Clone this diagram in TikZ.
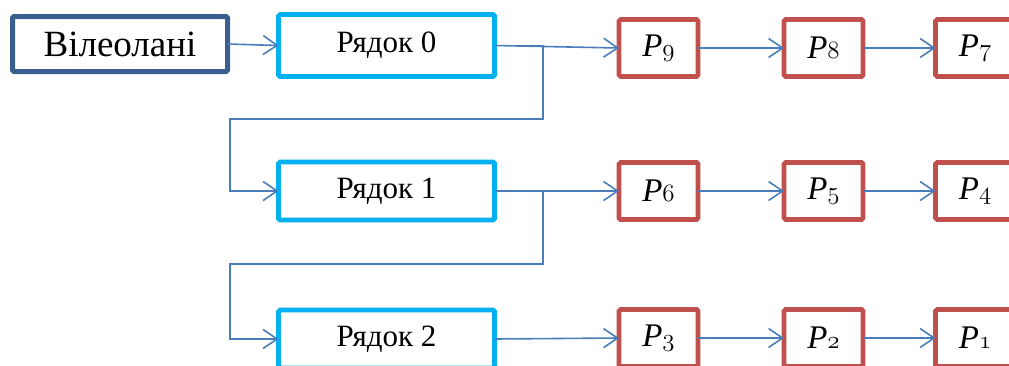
\documentclass[tikz,border=0pt]{standalone}
\usepackage{fontspec}
\setmainfont{Liberation Serif}
\usetikzlibrary{arrows.meta}
\definecolor{srcblue}{HTML}{3A5F8F}
\definecolor{rowcyan}{HTML}{00B0F0}
\definecolor{pixred}{HTML}{C0504D}
\definecolor{linkblue}{HTML}{4A7EBB}
% old-style italic digits for the pixel indices
\newcommand\onum[1]{{\usefont{OML}{lmm}{m}{it}#1}}
\newcommand\pix[1]{\textit{P}\onum{#1}}
\tikzset{
  srcbox/.style={draw=srcblue, line width=5pt, rounded corners=1.5pt, fill=white,
    minimum width=215pt, minimum height=55pt, inner sep=0pt, outer sep=0pt,
    font=\fontsize{37}{42}\selectfont},
  rowbox/.style={draw=rowcyan, line width=4.6pt, rounded corners=1.5pt, fill=white,
    minimum width=216pt, minimum height=58pt, inner sep=0pt, outer sep=0pt,
    font=\fontsize{31}{36}\selectfont},
  pixbox/.style={draw=pixred, line width=4.6pt, rounded corners=1.5pt, fill=white,
    minimum width=79pt, minimum height=57pt, inner sep=0pt, outer sep=0pt,
    font=\fontsize{33}{38}\selectfont},
  conn/.style={draw=linkblue, line width=1.6pt,
    -{Straight Barb[length=14pt,width=19pt,line width=1.6pt]}}
}
\begin{document}
\begin{tikzpicture}[x=1pt,y=-1pt]
\useasboundingbox (0,0) rectangle (1009,365);

% source
\node[srcbox] (vid) at (120,44) {Вілеолані};

% row buffers
\node[rowbox, minimum height=62pt] (r0) at (386.5,45.5) {Рядок 0};
\node[rowbox] (r1) at (386.5,191) {Рядок 1};
\node[rowbox] (r2) at (386.5,339) {Рядок 2};

% pixels
\node[pixbox] (p9) at (658.5,48) {\pix{9}};
\node[pixbox] (p8) at (823.5,48) {\pix{8}};
\node[pixbox] (p7) at (975,48)   {\pix{7}};
\node[pixbox] (p6) at (658.5,191) {\pix{6}};
\node[pixbox] (p5) at (823.5,191) {\pix{5}};
\node[pixbox] (p4) at (975,191)   {\pix{4}};
\node[pixbox] (p3) at (658.5,338) {\pix{3}};
\node[pixbox] (p2) at (823.5,338) {\pix{2}};
\node[pixbox] (p1) at (975,338)   {\pix{1}};

% bends of the row-to-row links
\coordinate (t0) at (543,119);
\coordinate (s0) at (230,119);
\coordinate (t1) at (543,264);
\coordinate (s1) at (230,264);

\draw[conn] (vid.east) -- (r0.west);

\draw[conn] (r0.east) -- (p9.west);
\draw[conn] (p9.east) -- (p8.west);
\draw[conn] (p8.east) -- (p7.west);
\draw[conn] (r0.east) -| (t0) -- (s0) |- (r1.west);

\draw[conn] (r1.east) -- (p6.west);
\draw[conn] (p6.east) -- (p5.west);
\draw[conn] (p5.east) -- (p4.west);
\draw[conn] (r1.east) -| (t1) -- (s1) |- (r2.west);

\draw[conn] (r2.east) -- (p3.west);
\draw[conn] (p3.east) -- (p2.west);
\draw[conn] (p2.east) -- (p1.west);
\end{tikzpicture}
\end{document}
